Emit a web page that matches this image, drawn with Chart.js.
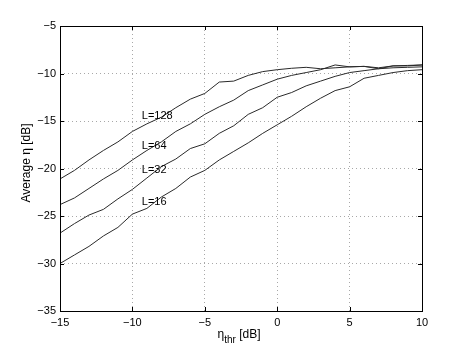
<!DOCTYPE html>
<html>
<head>
<meta charset="utf-8">
<script src="https://cdn.jsdelivr.net/npm/chart.js@4"></script>
<style>
  html, body { margin: 0; padding: 0; background: #fff; }
  canvas { display: block; }
</style>
</head>
<body>
<canvas id="etaChart" width="466" height="350"></canvas>
<script>
// threshold eta_thr [dB]
const etaThr = [-15, -14, -13, -12, -11, -10, -9, -8, -7, -6, -5, -4, -3, -2, -1, 0, 1, 2, 3, 4, 5, 6, 7, 8, 9, 10];

// average eta [dB] for each L
const avgL128 = [-21.1, -20.2, -19.1, -18.1, -17.2, -16.1, -15.3, -14.6, -13.6, -12.7, -12.1, -10.9, -10.8, -10.2, -9.8, -9.6, -9.45, -9.35, -9.5, -9.4, -9.3, -9.25, -9.4, -9.2, -9.2, -9.1];
const avgL64 = [-23.8, -23.1, -22.1, -21.1, -20.2, -19.1, -18.1, -17.2, -16.1, -15.3, -14.3, -13.5, -12.8, -11.8, -11.2, -10.6, -10.2, -9.9, -9.6, -9.1, -9.3, -9.25, -9.5, -9.2, -9.15, -9.1];
const avgL32 = [-26.8, -25.8, -24.9, -24.3, -23.2, -22.2, -21.0, -19.8, -19.0, -17.9, -17.4, -16.3, -15.5, -14.3, -13.6, -12.5, -12.0, -11.3, -10.8, -10.3, -9.9, -9.7, -9.5, -9.4, -9.35, -9.3];
const avgL16 = [-30.0, -29.1, -28.2, -27.1, -26.2, -24.8, -24.2, -23.0, -22.1, -20.9, -20.2, -19.1, -18.2, -17.3, -16.3, -15.4, -14.5, -13.5, -12.6, -11.8, -11.4, -10.5, -10.2, -9.9, -9.7, -9.6];

const seriesNames = ['L=128', 'L=64', 'L=32', 'L=16'];
const seriesValues = [avgL128, avgL64, avgL32, avgL16];

// where the curve labels sit, in data units
const labelX = [-9.35, -9.35, -9.35, -9.35];
const labelY = [-14.5, -17.6, -20.2, -23.5];

const xTicks = [-15, -10, -5, 0, 5, 10];
const yTicks = [-35, -30, -25, -20, -15, -10, -5];

const FONT = '"Liberation Sans", Arial, Helvetica, sans-serif';
const fmt = v => (v < 0 ? '\u2212' + Math.abs(v) : String(v));

// box, inward ticks, curve labels, axis titles
const matlabAxes = {
  id: 'matlabAxes',
  afterDraw(chart) {
    const { ctx, chartArea: a, scales } = chart;
    const xs = scales.x, ys = scales.y;
    ctx.save();
    ctx.strokeStyle = '#000';
    ctx.lineWidth = 1;
    ctx.strokeRect(Math.round(a.left) + 0.5, Math.round(a.top) + 0.5,
      Math.round(a.right - a.left), Math.round(a.bottom - a.top));

    const tl = 4;
    ctx.beginPath();
    xTicks.forEach(v => {
      const px = Math.round(xs.getPixelForValue(v)) + 0.5;
      ctx.moveTo(px, a.bottom); ctx.lineTo(px, a.bottom - tl);
      ctx.moveTo(px, a.top); ctx.lineTo(px, a.top + tl);
    });
    yTicks.forEach(v => {
      const py = Math.round(ys.getPixelForValue(v)) + 0.5;
      ctx.moveTo(a.left, py); ctx.lineTo(a.left + tl, py);
      ctx.moveTo(a.right, py); ctx.lineTo(a.right - tl, py);
    });
    ctx.stroke();

    ctx.fillStyle = '#000';
    ctx.font = '11px ' + FONT;
    ctx.textAlign = 'left';
    ctx.textBaseline = 'middle';
    seriesNames.forEach((name, i) => {
      ctx.fillText(name, xs.getPixelForValue(labelX[i]), ys.getPixelForValue(labelY[i]));
    });

    // x title: eta with subscript thr
    ctx.textBaseline = 'alphabetic';
    const big = '12px ' + FONT, small = '10px ' + FONT;
    ctx.font = big; const w1 = ctx.measureText('\u03b7').width;
    ctx.font = small; const w2 = ctx.measureText('thr').width;
    ctx.font = big; const w3 = ctx.measureText(' [dB]').width;
    const cx = 239;
    let x0 = cx - (w1 + w2 + w3) / 2;
    const base = 338;
    ctx.font = big; ctx.fillText('\u03b7', x0, base);
    ctx.font = small; ctx.fillText('thr', x0 + w1, base + 5);
    ctx.font = big; ctx.fillText(' [dB]', x0 + w1 + w2, base);

    // y title
    ctx.translate(27, 163);
    ctx.rotate(-Math.PI / 2);
    ctx.textAlign = 'center';
    ctx.textBaseline = 'middle';
    ctx.font = big;
    ctx.fillText('Average \u03b7 [dB]', 0, 0);
    ctx.restore();
  }
};

const ctx = document.getElementById('etaChart').getContext('2d');

const etaChart = new Chart(ctx, {
  type: 'line',
  data: {
    datasets: seriesValues.map((vals, i) => ({
      label: seriesNames[i],
      data: etaThr.map((x, j) => ({ x: x, y: vals[j] })),
      borderColor: '#2a2a2a',
      borderWidth: 1,
      pointRadius: 0,
      tension: 0,
      fill: false,
    })),
  },
  options: {
    responsive: false,
    animation: false,
    layout: {
      padding: { top: 26, right: 44, left: 0, bottom: 0 },
    },
    plugins: {
      legend: { display: false },
      tooltip: { enabled: false },
    },
    scales: {
      x: {
        type: 'linear',
        min: -15,
        max: 10,
        afterFit: s => { s.height = 39; },
        afterBuildTicks: s => { s.ticks = xTicks.map(v => ({ value: v })); },
        grid: {
          color: '#a8a8a8',
          lineWidth: 1,
          drawTicks: false,
        },
        border: { display: false, dash: [1, 3] },
        ticks: {
          padding: 5,
          color: '#000',
          font: { family: FONT, size: 11 },
          maxRotation: 0,
          callback: fmt,
        },
      },
      y: {
        type: 'linear',
        min: -35,
        max: -5,
        afterFit: s => { s.width = 60; },
        afterBuildTicks: s => { s.ticks = yTicks.map(v => ({ value: v })); },
        grid: {
          color: '#a8a8a8',
          lineWidth: 1,
          drawTicks: false,
        },
        border: { display: false, dash: [1, 3] },
        ticks: {
          padding: 4,
          color: '#000',
          font: { family: FONT, size: 11 },
          callback: fmt,
        },
      },
    },
  },
  plugins: [matlabAxes],
});
</script>
</body>
</html>
